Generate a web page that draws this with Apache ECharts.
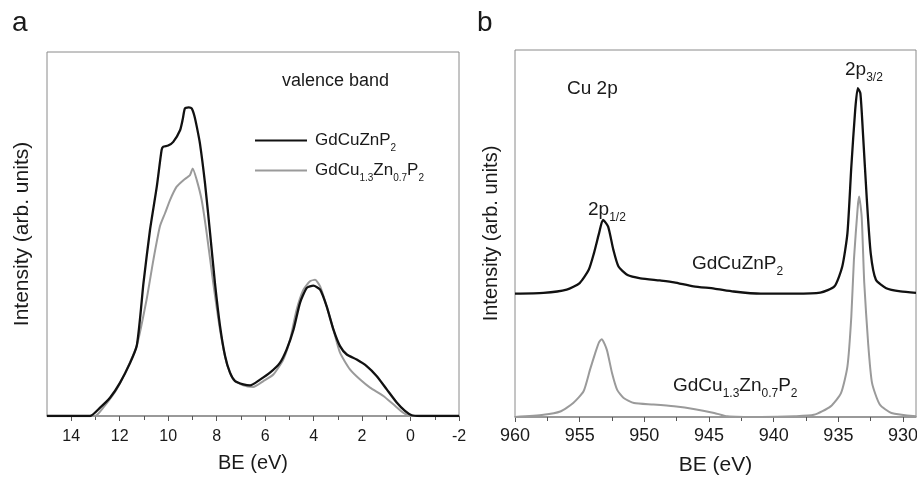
<!DOCTYPE html>
<html><head><meta charset="utf-8">
<script src="https://cdn.jsdelivr.net/npm/echarts@6/dist/echarts.min.js"></script>
<style>html,body{margin:0;padding:0;background:#fff}#c{width:917px;height:479px}</style>
</head><body><div id="c"></div>
<script>
// ---- Panel a: valence band ----
const vbTickLabels = [14, 12, 10, 8, 6, 4, 2, 0, -2];
const vbMinorTicks = [13, 11, 9, 7, 5, 3, 1, -1];
const vbBlackE = [15, 13.23, 12.81, 12.40, 11.99, 11.57, 11.30, 11.15, 11.02, 10.75, 10.47, 10.27, 10.20, 10.00, 9.79, 9.51, 9.40, 9.31, 9.15, 9.03, 8.92, 8.82, 8.69, 8.48, 8.27, 8.07, 7.86, 7.65, 7.45, 7.24, 6.90, 6.62, 6.21, 5.80, 5.39, 5.11, 4.83, 4.56, 4.28, 4.01, 3.73, 3.46, 3.18, 2.91, 2.63, 2.22, 1.81, 1.40, 0.98, 0.57, 0.23, -0.05, -0.39, -2];
const vbBlackI = [0, 0, 2.3, 5.0, 9.1, 14.6, 19.2, 27.5, 36.5, 51.1, 63.0, 73.1, 74.0, 74.3, 75.3, 78.5, 81.5, 84.5, 84.8, 84.5, 82.5, 79.5, 74.9, 63.9, 50.2, 36.5, 24.7, 16.4, 11.9, 9.6, 8.7, 8.4, 10.0, 11.9, 14.6, 18.3, 23.7, 31.1, 35.2, 35.8, 34.7, 30.1, 23.7, 19.2, 16.9, 15.5, 13.7, 11.0, 7.3, 3.7, 1.4, 0.2, 0, 0];
const vbGrayE = [15, 13.02, 12.68, 12.13, 11.71, 11.30, 10.89, 10.61, 10.34, 10.13, 9.92, 9.65, 9.37, 9.10, 8.99, 8.82, 8.62, 8.41, 8.14, 7.86, 7.59, 7.31, 6.90, 6.49, 6.07, 5.66, 5.25, 4.97, 4.70, 4.42, 4.15, 3.94, 3.73, 3.46, 3.18, 2.91, 2.50, 2.08, 1.67, 1.12, 0.71, 0.30, 0.02, -2];
const vbGrayI = [0, 0, 2.3, 7.3, 12.8, 19.2, 32.0, 42.9, 52.1, 55.7, 59.4, 63.0, 64.8, 66.2, 68.0, 64.8, 59.4, 50.2, 36.5, 23.7, 14.6, 10.0, 8.4, 8.0, 9.6, 11.4, 15.5, 21.0, 29.2, 34.7, 37.0, 37.4, 35.6, 30.1, 23.7, 17.4, 12.8, 10.0, 7.8, 5.5, 3.2, 0.9, 0, 0];

// ---- Panel b: Cu 2p ----
const cuTickLabels = [960, 955, 950, 945, 940, 935, 930];
const cuMinorTicks = [957.5, 952.5, 947.5, 942.5, 937.5, 932.5];
const cuBlackE = [960, 957.8, 956.0, 955.0, 954.3, 953.9, 953.5, 953.2, 952.8, 952.4, 952.0, 951.3, 950.3, 948.8, 947.7, 946.2, 944.6, 943.1, 941.0, 938.4, 936.4, 935.3, 934.7, 934.3, 934.0, 933.7, 933.5, 933.3, 933.1, 932.8, 932.5, 932.1, 931.3, 930.2, 929];
const cuBlackI = [33.6, 33.8, 34.7, 36.5, 40.1, 44.6, 50.1, 53.7, 51.9, 45.6, 41.0, 38.7, 37.8, 37.2, 36.7, 35.6, 35.0, 34.2, 33.6, 33.6, 33.9, 35.6, 41.0, 50.1, 68.2, 83.7, 89.6, 88.2, 77.3, 59.2, 44.6, 37.4, 35.1, 34.2, 33.8];
const cuGrayE = [960, 957.8, 956.5, 955.5, 954.7, 954.2, 953.8, 953.5, 953.3, 952.9, 952.5, 952.1, 951.6, 950.8, 949.3, 947.7, 946.2, 944.6, 943.6, 941.0, 938.4, 936.9, 935.6, 934.8, 934.3, 934.0, 933.8, 933.5, 933.4, 933.2, 933.0, 932.7, 932.4, 931.8, 930.9, 929];
const cuGrayI = [0, 0.6, 1.5, 3.8, 7.0, 12.9, 17.4, 20.4, 21.2, 18.3, 12.0, 7.4, 5.2, 3.8, 3.4, 2.9, 2.2, 1.1, 0.2, 0, 0.2, 0.6, 2.9, 6.5, 13.8, 27.4, 42.8, 57.4, 60.1, 54.6, 36.5, 20.1, 9.3, 3.4, 1.1, 0.2];

const nameBlack = 'GdCuZnP2';
const nameGray = 'GdCu1.3Zn0.7P2';

const FF = "'Liberation Sans', Arial, sans-serif";
const TXT = '#1a1a1a';
const AX = '#8a8a8a';
const zip = (a, b) => a.map((v, i) => [v, b[i]]);

function richFor(fs, sfs, offset, key) {
  const pt = offset + fs / 2 - sfs / 2;
  const n = { fontSize: fs, fontFamily: FF, lineHeight: fs };
  const s = { fontSize: sfs, fontFamily: FF, lineHeight: fs, verticalAlign: 'top', padding: [pt, 0, 0, 0] };
  n[key] = TXT; s[key] = TXT;
  return { n, s };
}
const fmtName = (nm) => nm === nameBlack ? '{n|GdCuZnP}{s|2}' : '{n|GdCu}{s|1.3}{n|Zn}{s|0.7}{n|P}{s|2}';

const chart = echarts.init(document.getElementById('c'));

const legendBase = {
  orient: 'vertical', left: 250, itemWidth: 52, itemHeight: 2, icon: 'rect', selectedMode: false,
  formatter: fmtName,
  textStyle: { color: TXT, fontFamily: FF, fontSize: 17, padding: [0, 0, 0, 3], rich: richFor(17, 10, 8, 'color') }
};

function gtext(x, y, text, fs, sfs) {
  return { type: 'text', x, y, style: { text, fill: TXT, fontSize: fs, fontFamily: FF, verticalAlign: 'middle', align: 'left', rich: sfs ? richFor(fs, sfs, 8, 'fill') : undefined } };
}

const option = {
  animation: false,
  backgroundColor: '#fff',
  grid: [
    { left: 47, top: 52, width: 412, height: 364, show: true, borderColor: AX, borderWidth: 1, backgroundColor: 'transparent', outerBoundsMode: 'none', containLabel: false },
    { left: 515, top: 50, width: 401, height: 367, show: true, borderColor: AX, borderWidth: 1, backgroundColor: 'transparent', outerBoundsMode: 'none', containLabel: false }
  ],
  legend: [
    Object.assign({}, legendBase, { data: [nameBlack], top: 127 }),
    Object.assign({}, legendBase, { data: [nameGray], top: 157 })
  ],
  xAxis: [
    { gridIndex: 0, type: 'value', min: -2, max: 15, inverse: true,
      name: 'BE (eV)', nameLocation: 'middle', nameGap: 37,
      nameTextStyle: { fontSize: 20, fontFamily: FF, color: TXT },
      axisLine: { lineStyle: { color: AX, width: 1.5 } },
      axisTick: { length: 5, lineStyle: { color: '#555' }, customValues: vbTickLabels },
      axisLabel: { fontSize: 16, fontFamily: FF, color: TXT, margin: 13, customValues: vbTickLabels },
      splitLine: { show: false } },
    { gridIndex: 0, type: 'value', min: -2, max: 15, inverse: true, position: 'bottom',
      axisLine: { show: false },
      axisTick: { length: 4, lineStyle: { color: '#555' }, customValues: vbMinorTicks },
      axisLabel: { show: false, customValues: vbMinorTicks },
      splitLine: { show: false } },
    { gridIndex: 1, type: 'value', min: 929, max: 960, inverse: true,
      name: 'BE (eV)', nameLocation: 'middle', nameGap: 38,
      nameTextStyle: { fontSize: 21, fontFamily: FF, color: TXT },
      axisLine: { lineStyle: { color: AX, width: 1.5 } },
      axisTick: { length: 5, lineStyle: { color: '#555' }, customValues: cuTickLabels },
      axisLabel: { fontSize: 18, fontFamily: FF, color: TXT, margin: 10, customValues: cuTickLabels },
      splitLine: { show: false } },
    { gridIndex: 1, type: 'value', min: 929, max: 960, inverse: true, position: 'bottom',
      axisLine: { show: false },
      axisTick: { length: 4, lineStyle: { color: '#555' }, customValues: cuMinorTicks },
      axisLabel: { show: false, customValues: cuMinorTicks },
      splitLine: { show: false } }
  ],
  yAxis: [
    { gridIndex: 0, type: 'value', min: 0, max: 100,
      name: 'Intensity (arb. units)', nameLocation: 'middle', nameGap: 14,
      nameTextStyle: { fontSize: 21, fontFamily: FF, color: TXT },
      axisLine: { show: false }, axisTick: { show: false }, axisLabel: { show: false }, splitLine: { show: false } },
    { gridIndex: 1, type: 'value', min: 0, max: 100,
      name: 'Intensity (arb. units)', nameLocation: 'middle', nameGap: 14,
      nameTextStyle: { fontSize: 20, fontFamily: FF, color: TXT },
      axisLine: { show: false }, axisTick: { show: false }, axisLabel: { show: false }, splitLine: { show: false } }
  ],
  series: [
    { name: nameGray, type: 'line', xAxisIndex: 0, yAxisIndex: 0, data: zip(vbGrayE, vbGrayI), symbol: 'none', smooth: 0.2, lineStyle: { color: '#9a9a9a', width: 2 }, itemStyle: { color: '#9a9a9a' } },
    { name: nameBlack, type: 'line', xAxisIndex: 0, yAxisIndex: 0, data: zip(vbBlackE, vbBlackI), symbol: 'none', smooth: 0.2, lineStyle: { color: '#111', width: 2.3 }, itemStyle: { color: '#111' } },
    { name: nameGray, type: 'line', xAxisIndex: 2, yAxisIndex: 1, data: zip(cuGrayE, cuGrayI), symbol: 'none', smooth: 0.2, lineStyle: { color: '#9a9a9a', width: 2 }, itemStyle: { color: '#9a9a9a' } },
    { name: nameBlack, type: 'line', xAxisIndex: 2, yAxisIndex: 1, data: zip(cuBlackE, cuBlackI), symbol: 'none', smooth: 0.2, lineStyle: { color: '#111', width: 2.3 }, itemStyle: { color: '#111' } }
  ],
  graphic: [
    { type: 'text', x: 12, y: 23, style: { text: 'a', fill: TXT, fontSize: 28, fontFamily: FF, verticalAlign: 'middle' } },
    { type: 'text', x: 477, y: 23, style: { text: 'b', fill: TXT, fontSize: 28, fontFamily: FF, verticalAlign: 'middle' } },
    gtext(282, 81, 'valence band', 18),
    gtext(567, 89, 'Cu 2p', 19),
    gtext(845, 70, '{n|2p}{s|3/2}', 19, 12),
    gtext(588, 210, '{n|2p}{s|1/2}', 19, 12),
    gtext(692, 264, '{n|GdCuZnP}{s|2}', 19, 12),
    gtext(673, 386, '{n|GdCu}{s|1.3}{n|Zn}{s|0.7}{n|P}{s|2}', 19, 12)
  ]
};
chart.setOption(option);
</script>
</body></html>
